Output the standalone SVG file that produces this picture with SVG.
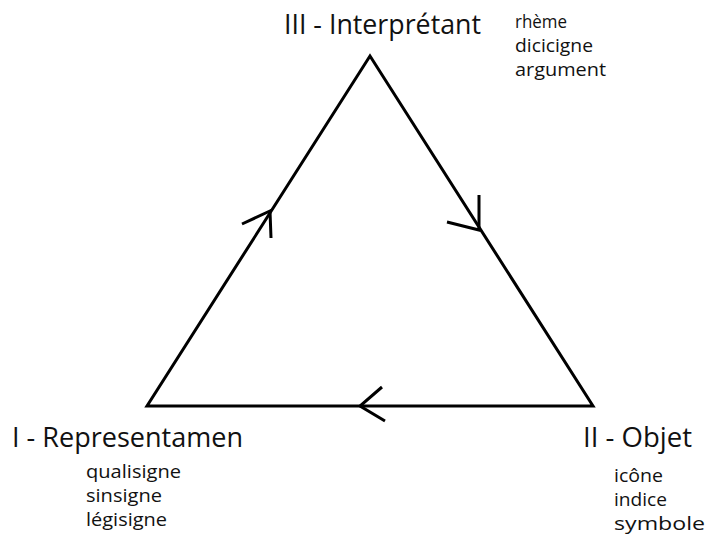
<svg xmlns="http://www.w3.org/2000/svg" width="707" height="544" viewBox="0 0 707 544">
  <style>
    .edge { fill: none; stroke: #000; stroke-width: 3; stroke-linejoin: miter; }
    .chev { fill: none; stroke: #000; stroke-width: 3; stroke-linecap: butt; stroke-linejoin: miter; }
    .title { font-family: "Open Sans", "Noto Sans", "Liberation Sans", sans-serif; font-size: 27px; fill: #111; }
    .item { font-family: "Open Sans", "Noto Sans", "Liberation Sans", sans-serif; font-size: 17.5px; fill: #111; }
  </style>
  <rect width="707" height="544" fill="#fff"/>

  <!-- triangle sides and direction chevrons -->
  <g id="connectors">
    <polygon class="edge" points="370,56 593,406 147,406"/>
    <polyline class="chev" points="242,224 270,211 271,238"/>
    <polyline class="chev" points="479,195 479,230 447,222"/>
    <polyline class="chev" points="382,387 360,406 385,421"/>
  </g>

  <g id="interpretant">
    <text class="title" x="284" y="34" textLength="197" lengthAdjust="spacingAndGlyphs">III - Interprétant</text>
    <text class="item" x="515" y="28" textLength="52" lengthAdjust="spacingAndGlyphs">rhème</text>
    <text class="item" x="515" y="52" textLength="78" lengthAdjust="spacingAndGlyphs">dicicigne</text>
    <text class="item" x="515" y="76" textLength="91" lengthAdjust="spacingAndGlyphs">argument</text>
  </g>

  <g id="representamen">
    <text class="title" x="12" y="447" textLength="231" lengthAdjust="spacingAndGlyphs">I - Representamen</text>
    <text class="item" x="86" y="478" textLength="95" lengthAdjust="spacingAndGlyphs">qualisigne</text>
    <text class="item" x="86" y="502" textLength="76" lengthAdjust="spacingAndGlyphs">sinsigne</text>
    <text class="item" x="86" y="526" textLength="81" lengthAdjust="spacingAndGlyphs">légisigne</text>
  </g>

  <g id="objet">
    <text class="title" x="583" y="447" textLength="109" lengthAdjust="spacingAndGlyphs">II - Objet</text>
    <text class="item" x="614" y="482" textLength="49" lengthAdjust="spacingAndGlyphs">icône</text>
    <text class="item" x="614" y="506" textLength="53" lengthAdjust="spacingAndGlyphs">indice</text>
    <text class="item" x="614" y="530" textLength="91" lengthAdjust="spacingAndGlyphs">symbole</text>
  </g>
</svg>
